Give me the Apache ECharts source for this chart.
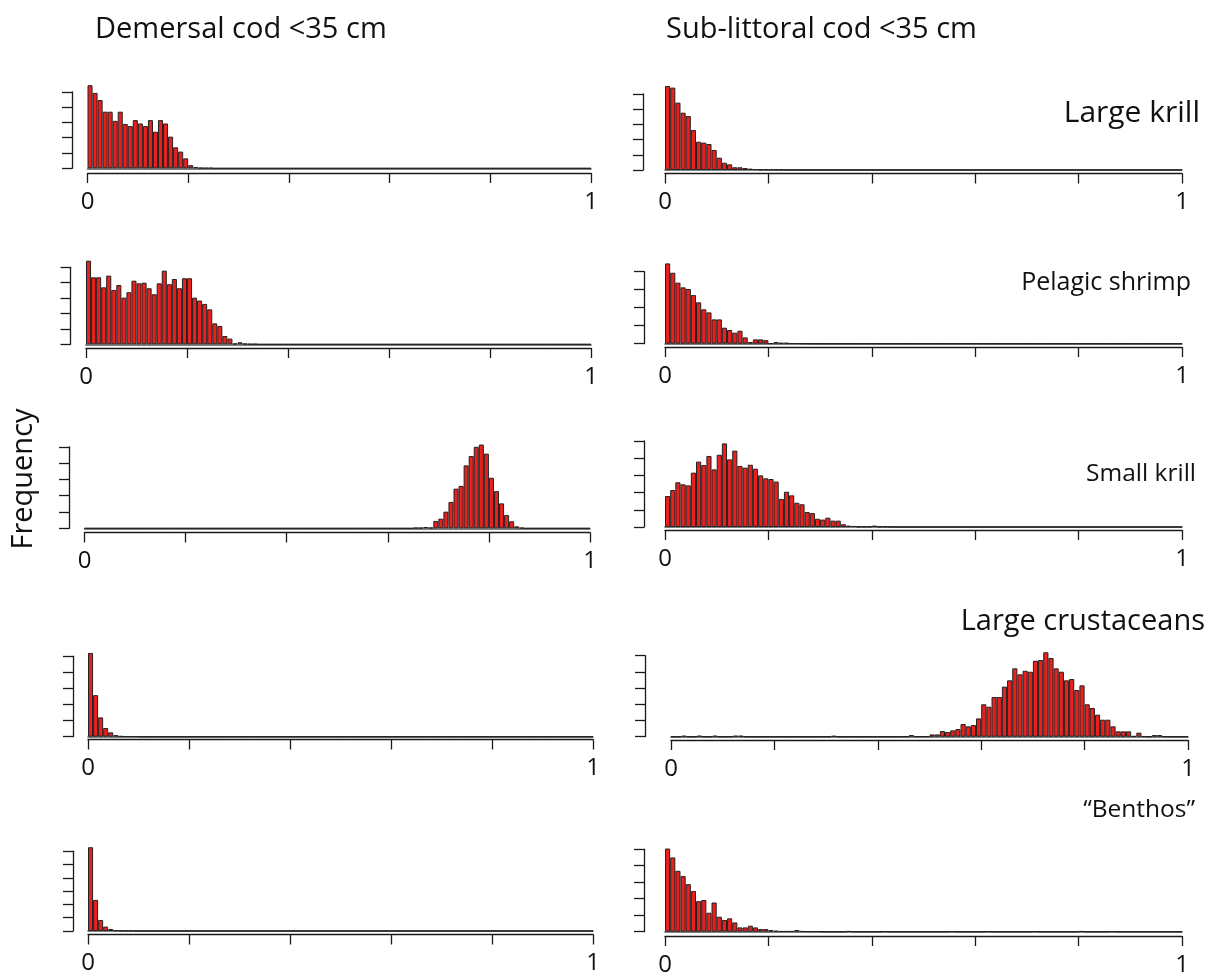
<!DOCTYPE html>
<html><head><meta charset="utf-8">
<script src="https://cdn.jsdelivr.net/npm/echarts@6/dist/echarts.min.js"></script>
<style>html,body{margin:0;padding:0;background:#fff}#c{width:1215px;height:979px}</style>
</head><body><div id="c"></div>
<script>
// ---------- DATA ----------
const binCount = 100;                 // bin width 0.01 over [0,1]
const xTickValues = [0, 0.2, 0.4, 0.6, 0.8, 1];
const xTickText = ['0', '', '', '', '', '1'];
const columnTitles = ['Demersal cod <35 cm', 'Sub-littoral cod <35 cm'];
const preyLabels = ['Large krill', 'Pelagic shrimp', 'Small krill', 'Large crustaceans', '\u201CBenthos\u201D'];
const yLabel = 'Frequency';
const yTickCounts = [[6, 6], [6, 5], [6, 6], [6, 6], [7, 6]];

// Frequencies in units of one y-axis tick step, starting at the given bin
const demLargeKrill = [5.43,4.93,4.46,3.7,3.7,3.1,3.7,2.9,2.76,3.15,2.93,2.76,3.15,2.39,3.15,2.93,2.07,1.37,1.09,0.65,0.2,0.08,0.03,0.02,0.02];
const demLargeKrillStart = 0;
const subLargeKrill = [5.53,5.42,4.43,3.77,3.55,2.63,1.86,1.8,1.71,1.32,0.81,0.48,0.37,0.18,0.18,0.13,0.09,0.06,0.03,0.03,0.03,0.03,0.02,0.02,0.01,0.01];
const subLargeKrillStart = 0;
const demPelagicShrimp = [5.43,4.35,4.35,3.7,4.46,3.53,3.85,3.03,3.38,4.13,3.96,4.0,3.64,3.25,3.96,4.78,3.9,4.24,3.64,4.29,4.29,3.03,2.84,2.62,2.27,1.36,1.19,0.54,0.37,0.05,0.13,0.04,0.02,0.02];
const demPelagicShrimpStart = 0;
const subPelagicShrimp = [4.46,3.94,3.39,3.13,3.04,2.7,2.3,1.91,1.74,1.35,1.35,0.89,0.76,0.61,0.72,0.35,0.09,0.24,0.24,0.2,0.02,0.09,0.05,0.05,0.02,0.02,0.01,0.01];
const subPelagicShrimpStart = 0;
const demSmallKrill = [0.03,0.03,0.08,0.04,0.45,0.59,1.02,1.62,2.43,2.6,3.86,4.43,5.0,5.14,4.58,3.1,2.28,1.53,0.81,0.43,0.12,0.03];
const demSmallKrillStart = 65;
const subSmallKrill = [1.8,2.15,2.6,2.48,2.42,3.16,3.8,3.6,4.13,3.35,4.2,4.86,3.93,4.44,3.55,3.45,3.62,3.39,3.0,2.83,2.79,2.64,1.63,2.05,1.84,1.41,1.32,0.87,0.81,0.48,0.43,0.54,0.37,0.37,0.16,0.08,0.06,0.02,0.02,0.02,0.08,0.02,0.02,0.01];
const subSmallKrillStart = 0;
const demLargeCrust = [5.2,2.58,1.2,0.54,0.27,0.1,0.04,0.02,0.02,0.02];
const demLargeCrustStart = 0;
const subLargeCrust = [0.1,0.01,0.01,0.01,0.14,0.14,0.35,0.29,0.39,0.47,0.78,0.64,0.72,1.13,2.0,1.85,2.45,2.45,3.09,3.48,4.22,3.85,4.07,4.01,4.69,4.73,5.21,4.86,4.22,4.01,3.48,3.56,2.88,3.17,2.0,1.77,1.36,1.05,1.05,0.64,0.33,0.33,0.33,0.04,0.25,0.02,0,0.1,0.1,0.01];
const subLargeCrustStart = 46;
const subLargeCrustSmallBins = [[2,0.06],[5,0.06],[8,0.06],[12,0.06],[13,0.06],[31,0.05]];
const demBenthos = [6.3,2.34,0.83,0.33,0.15,0.05,0.02,0.02,0.02];
const demBenthosStart = 0;
const subBenthos = [5.04,4.5,3.69,3.37,2.88,2.46,1.85,1.92,1.15,1.77,0.91,0.71,0.81,0.56,0.26,0.26,0.36,0.26,0.16,0.16,0.1,0.06,0.03,0.03,0.03,0.1,0.03,0.02,0.02,0.02];
const subBenthosStart = 0;
const subBenthosSmallBins = [[35,0.03],[42,0.02],[55,0.02],[62,0.02],[71,0.02],[80,0.03],[86,0.02]];

// ---------- BUILD ----------
function toBins(values, start, extras) {
  const out = new Array(binCount).fill(0);
  values.forEach((v, i) => { out[start + i] = v; });
  (extras || []).forEach(([b, v]) => { out[b] = v; });
  return out;
}
const panelData = [
  [toBins(demLargeKrill, demLargeKrillStart), toBins(subLargeKrill, subLargeKrillStart)],
  [toBins(demPelagicShrimp, demPelagicShrimpStart), toBins(subPelagicShrimp, subPelagicShrimpStart)],
  [toBins(demSmallKrill, demSmallKrillStart), toBins(subSmallKrill, subSmallKrillStart)],
  [toBins(demLargeCrust, demLargeCrustStart), toBins(subLargeCrust, subLargeCrustStart, subLargeCrustSmallBins)],
  [toBins(demBenthos, demBenthosStart), toBins(subBenthos, subBenthosStart, subBenthosSmallBins)]
];

// layout (pixels): x of value 0, x of value 1, baseline y, px per tick, y-axis x, x-axis y
const layout = [
  [[87.5, 591, 168.3, 15.3, 72, 173], [665, 1182, 170, 15.2, 643, 173.5]],
  [[86, 591, 344.3, 15.4, 70.5, 348], [665, 1182, 343.7, 18, 644, 347]],
  [[84.5, 590, 528.3, 16.3, 69, 532.5], [665, 1182, 527, 17.2, 644, 530]],
  [[88, 593, 736.7, 16.1, 73, 739.5], [671, 1188, 736.7, 16.2, 645, 740]],
  [[88, 593, 931, 13.3, 73, 934.5], [665, 1182, 931.7, 16.5, 644, 936]]
];

const FONT = '"Open Sans", "DejaVu Sans", sans-serif';
const axisColor = '#1a1a1a';
const binNames = Array.from({length: binCount}, (_, i) => String(i));

const grids = [], xAxes = [], yAxes = [], series = [];
let gi = 0;
for (let r = 0; r < 5; r++) {
  for (let c = 0; c < 2; c++) {
    const [x0, x1, base, unit, yx, ay] = layout[r][c];
    const nt = yTickCounts[r][c];
    const h = (nt - 1) * unit;
    grids.push({left: x0, top: base - h, width: x1 - x0, height: h, containLabel: false});
    xAxes.push({
      type: 'category', gridIndex: gi, data: binNames, position: 'bottom', boundaryGap: true,
      axisLine: {show: true, onZero: true, lineStyle: {color: '#555', width: 1.6}},
      axisTick: {show: false}, axisLabel: {show: false}, splitLine: {show: false}
    });
    xAxes.push({
      type: 'value', gridIndex: gi, min: 0, max: 1, interval: 0.2, position: 'bottom',
      offset: ay - base,
      axisLine: {show: true, onZero: false, lineStyle: {color: axisColor, width: 1.3}},
      axisTick: {show: true, length: 10, inside: false, lineStyle: {color: axisColor, width: 1.3}},
      axisLabel: {
        show: true, margin: 17, fontSize: 24, fontFamily: FONT, color: '#111',
        showMinLabel: true, showMaxLabel: true,
        formatter: v => { const k = xTickValues.findIndex(t => Math.abs(t - v) < 1e-9); return k >= 0 ? xTickText[k] : ''; }
      },
      splitLine: {show: false}
    });
    yAxes.push({
      type: 'value', gridIndex: gi, min: 0, max: nt - 1, interval: 1, position: 'left',
      offset: x0 - yx,
      axisLine: {show: true, onZero: false, lineStyle: {color: axisColor, width: 1.3}},
      axisTick: {show: true, length: 10, inside: false, lineStyle: {color: axisColor, width: 1.3}},
      axisLabel: {show: false}, splitLine: {show: false}
    });
    series.push({
      type: 'bar', xAxisIndex: gi * 2, yAxisIndex: gi, data: panelData[r][c],
      barWidth: '100%', barCategoryGap: '0%', clip: false, silent: true,
      itemStyle: {color: '#e8201e', borderColor: '#222', borderWidth: 1}
    });
    gi++;
  }
}

const textStyle = (t, align, size) => ({text: t, fontSize: size, fontFamily: FONT, fill: '#111', align: align, verticalAlign: 'middle'});
const graphics = [
  {type: 'text', x: 95, y: 30, style: textStyle(columnTitles[0], 'left', 29)},
  {type: 'text', x: 666, y: 30, style: textStyle(columnTitles[1], 'left', 29)},
  {type: 'text', x: 1200, y: 113, style: textStyle(preyLabels[0], 'right', 30)},
  {type: 'text', x: 1191, y: 283, style: textStyle(preyLabels[1], 'right', 25)},
  {type: 'text', x: 1196, y: 474, style: textStyle(preyLabels[2], 'right', 24.5)},
  {type: 'text', x: 1205, y: 622, style: textStyle(preyLabels[3], 'right', 29)},
  {type: 'text', x: 1195, y: 810, style: textStyle(preyLabels[4], 'right', 24.5)},
  {type: 'text', x: 24, y: 479, rotation: Math.PI / 2, style: textStyle(yLabel, 'center', 29)}
];

const chart = echarts.init(document.getElementById('c'), null, {renderer: 'canvas'});
chart.setOption({
  animation: false,
  backgroundColor: '#ffffff',
  grid: grids, xAxis: xAxes, yAxis: yAxes, series: series,
  graphic: graphics
});
</script>
</body></html>
